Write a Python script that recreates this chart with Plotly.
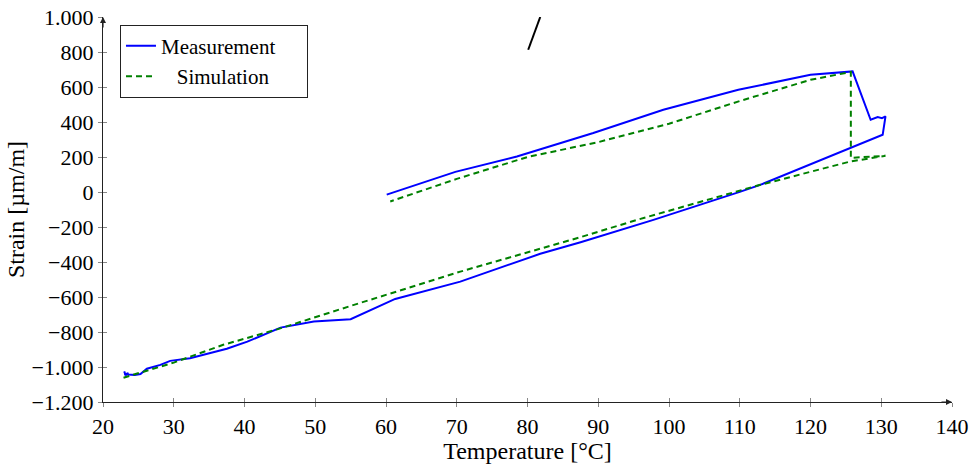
import plotly.graph_objects as go

# Measurement (blue)
meas_x = [60.1, 69.8, 78.5, 89.3, 99.2, 109.8, 120.0, 125.95, 128.5, 129.5, 130.1, 130.6, 130.2,
          120.0, 112.9, 110.0, 97.8, 87.5, 81.8, 70.5, 61.3, 55.0, 49.8, 45.1, 40.4, 37.5,
          32.3, 29.5, 28.1, 26.2, 25.3, 24.5, 23.0, 23.6, 23.2, 23.0]
meas_y = [-15, 115, 203, 337, 470, 584, 670, 689, 413, 428, 422, 432, 327,
          156, 41, 1, -159, -287, -353, -512, -611, -727, -740, -775, -855, -896,
          -950, -965, -988, -1010, -1040, -1045, -1042, -1035, -1048, -1025]

# Simulation (green, dashed)
sim_x = [22.9, 30.0, 37.0, 44.6, 55.0, 70.5, 87.5, 95.5, 112.9, 120.0, 125.6, 130.6, 126.2,
         125.7, 125.7, 120.0, 110.0, 100.0, 90.0, 80.0, 70.0, 60.6]
sim_y = [-1061, -975, -873, -785, -651, -455, -258, -159, 41, 117, 174, 207, 194,
         195, 686, 641, 520, 390, 285, 200, 75, -54]

# stray mark at top
mark_x = [80.1, 81.8]
mark_y = [813, 1000]

x_ticks = [20, 30, 40, 50, 60, 70, 80, 90, 100, 110, 120, 130, 140]
y_ticks = [-1200, -1000, -800, -600, -400, -200, 0, 200, 400, 600, 800, 1000]

FONT = "Liberation Serif"

fig = go.Figure()
fig.add_trace(go.Scatter(x=meas_x, y=meas_y, mode="lines",
                         name="Measurement\u00a0\u00a0\u00a0\u00a0\u00a0",
                         line=dict(color="#0000ff", width=2)))
fig.add_trace(go.Scatter(x=sim_x, y=sim_y, mode="lines", name="\u00a0\u00a0\u00a0Simulation",
                         line=dict(color="#008000", width=2, dash="6px,4px")))
fig.add_trace(go.Scatter(x=mark_x, y=mark_y, mode="lines", showlegend=False,
                         line=dict(color="black", width=2)))

axis_common = dict(showgrid=False, zeroline=False, showline=True, linecolor="#222",
                   linewidth=1.2, ticks="outside", ticklen=4, tickcolor="#888",
                   tickwidth=1, automargin=False,
                   tickfont=dict(family=FONT, size=22, color="black"))

fig.update_layout(
    width=971, height=465,
    margin=dict(l=103, r=19, t=17, b=63),
    paper_bgcolor="white", plot_bgcolor="white",
    separators=",.",
    font=dict(family=FONT, size=20, color="black"),
    xaxis=dict(range=[20, 140], tickvals=x_ticks,
               title=dict(text="Temperature [°C]", font=dict(family=FONT, size=24), standoff=4),
               **axis_common),
    yaxis=dict(range=[-1200, 1000], tickvals=y_ticks, separatethousands=True,
               title=dict(text="Strain [µm/m]", font=dict(family=FONT, size=24), standoff=0),
               **axis_common),
    xaxis2=dict(range=[20, 140], overlaying="x", anchor="y", tickvals=x_ticks, ticks="inside",
                ticklen=4, tickcolor="#888", showticklabels=False, showgrid=False,
                zeroline=False, showline=False, automargin=False),
    yaxis2=dict(range=[-1200, 1000], overlaying="y", anchor="x", side="left", tickvals=y_ticks,
                ticks="inside", ticklen=4, tickcolor="#888", showticklabels=False,
                showgrid=False, zeroline=False, showline=False, automargin=False),
    legend=dict(x=0.02, y=0.98, xanchor="left", yanchor="top",
                bordercolor="#222", borderwidth=1, bgcolor="white",
                font=dict(family=FONT, size=21), tracegroupgap=0),
    showlegend=True,
)

# invisible trace to activate secondary axes
fig.add_trace(go.Scatter(x=[None], y=[None], xaxis="x2", yaxis="y2", showlegend=False,
                         hoverinfo="skip"))

# axis arrows
fig.add_annotation(x=1.0, y=0, xref="paper", yref="paper", ax=-12, ay=0, text="",
                   showarrow=True, arrowhead=2, arrowsize=1,
                   arrowwidth=1.2, arrowcolor="#222")
fig.add_annotation(x=0, y=1.0, xref="paper", yref="paper", ax=0, ay=12, text="",
                   showarrow=True, arrowhead=2, arrowsize=1, arrowwidth=1.2, arrowcolor="#222")

fig.write_html("out.html")
